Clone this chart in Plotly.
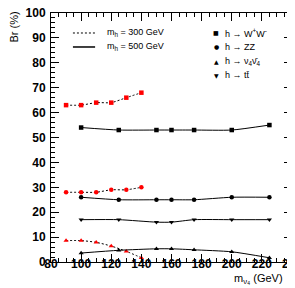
import plotly.graph_objects as go

# m_h = 300 GeV (red markers, dotted line)
x300 = [90, 100, 110, 120, 130, 140]
ww300 = [63, 63, 64, 64, 66, 68]
zz300 = [28, 28, 28, 29, 29, 30]
nu300 = [8.6, 8.6, 7.9, 6.4, 4.3, 1.7]

# m_h = 500 GeV (black markers, solid line)
x500 = [100, 125, 150, 160, 175, 200, 225]
ww500 = [54, 53, 53, 53, 53, 53, 55]
zz500 = [26, 25, 25, 25, 25, 26, 26]
nu500 = [3.6, 4.7, 5.3, 5.3, 4.9, 4.1, 1.7]
tt500 = [17, 17, 16, 16, 17, 17, 17]

xticks = [80, 100, 120, 140, 160, 180, 200, 220, 240]
yticks = [0, 10, 20, 30, 40, 50, 60, 70, 80, 90, 100]

mh_labels = ["m<sub>h</sub> = 300 GeV", "m<sub>h</sub> = 500 GeV"]
decay_labels = ["h → W<sup>+</sup>W<sup>-</sup>", "h → ZZ",
                "h → ν<sub>4</sub>ν̄<sub>4</sub>", "h → tt̄"]
decay_glyphs = ["■", "●", "▲", "▼"]

DOT = "2px,2px"
fig = go.Figure()

def add(x, y, sym, mcol, dash):
    fig.add_trace(go.Scatter(
        x=x, y=y, mode="lines+markers", showlegend=False,
        line=dict(color="black", width=1, dash=dash, shape="spline", smoothing=0.6),
        marker=dict(symbol=sym, color=mcol, size=4.5)))

add(x300, ww300, "square", "red", DOT)
add(x300, zz300, "circle", "red", DOT)
add(x300, nu300, "triangle-up", "red", DOT)
add(x500, ww500, "square", "black", "solid")
add(x500, zz500, "circle", "black", "solid")
add(x500, nu500, "triangle-up", "black", "solid")
add(x500, tt500, "triangle-down", "black", "solid")

axfont = dict(family="Liberation Sans", size=12, color="black", weight="bold")
common = dict(ticks="inside", ticklen=8, tickcolor="black", mirror="allticks", showline=True,
              linecolor="black", linewidth=1, showgrid=False, zeroline=False, tickfont=axfont,
              automargin=False, ticklabeloverflow="allow")
fig.update_xaxes(range=[80, 240], tickvals=xticks, ticklabelstandoff=-9, **common,
                 minor=dict(dtick=5, ticks="inside", ticklen=4, tickcolor="black", showgrid=False))
fig.update_yaxes(range=[0, 100], tickvals=yticks, ticklabelstandoff=2, **common,
                 minor=dict(dtick=2, ticks="inside", ticklen=4, tickcolor="black", showgrid=False))

# legend (paper coordinates)
leg_y = [0.9197, 0.8635]
dash_styles = [DOT, "solid"]
shapes = []
annotations = []
for yy, lab, ds in zip(leg_y, mh_labels, dash_styles):
    shapes.append(dict(type="line", xref="paper", yref="paper", x0=0.091, x1=0.183, y0=yy, y1=yy,
                       line=dict(color="black", width=1 if ds == DOT else 1.5, dash=ds)))
    annotations.append(dict(text=lab, x=0.224, y=yy, xref="paper", yref="paper", xanchor="left",
                            yanchor="middle", showarrow=False, font=dict(size=9)))
leg2_y = [0.9197, 0.8635, 0.807, 0.751]
for yy, lab, g in zip(leg2_y, decay_labels, decay_glyphs):
    annotations.append(dict(text=g, x=0.685, y=yy, xref="paper", yref="paper", xanchor="center",
                            yanchor="middle", showarrow=False,
                            font=dict(size=6, family="DejaVu Sans")))
    annotations.append(dict(text=lab, x=0.712, y=yy, xref="paper", yref="paper", xanchor="left",
                            yanchor="middle", showarrow=False, font=dict(size=9)))

annotations += [
    dict(text="Br (%)", x=-0.1535, y=1.012, xref="paper", yref="paper", xanchor="center",
         yanchor="top", textangle=-90, showarrow=False, font=dict(size=11)),
    dict(text="m<sub>ν₄</sub> (GeV)", x=0.75, y=-0.068, xref="paper", yref="paper",
         xanchor="left", yanchor="middle", showarrow=False, font=dict(size=11)),
]

fig.update_layout(
    width=295, height=288, margin=dict(l=43, r=11, t=5, b=34),
    plot_bgcolor="white", paper_bgcolor="white", showlegend=False,
    font=dict(family="Liberation Sans", color="black"),
    shapes=shapes, annotations=annotations,
)

fig.write_html("out.html")
